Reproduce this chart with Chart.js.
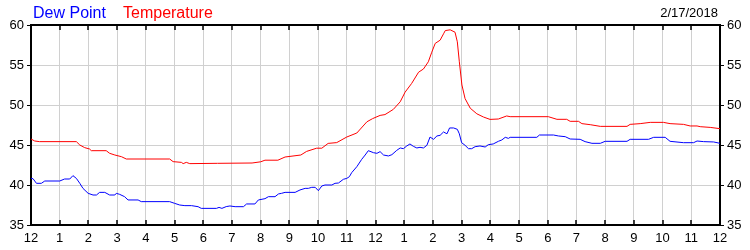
<!DOCTYPE html>
<html>
<head>
<meta charset="utf-8">
<script src="https://cdn.jsdelivr.net/npm/chart.js@4/dist/chart.umd.min.js"></script>
<style>
  html, body { margin: 0; padding: 0; background: #fff; }
  #wrap { width: 750px; height: 250px; position: relative; }
</style>
</head>
<body>
<div id="wrap"><canvas id="c" width="750" height="250"></canvas></div>
<script>
// ---- Data (hours since midnight, degrees F) ----
const chartDate = "2/17/2018";
const seriesNames = ["Dew Point", "Temperature"];
const xTickHours = [0,1,2,3,4,5,6,7,8,9,10,11,12,13,14,15,16,17,18,19,20,21,22,23,24];
const yTicks = [35, 40, 45, 50, 55, 60];

const tempHours = [0,0.13,0.3,1.58,1.7,1.87,2.04,2.1,2.62,2.74,2.92,3.15,3.32,4.83,4.95,5.24,5.3,5.41,5.53,6.5,7.7,8.0,8.15,8.6,8.85,9.4,9.6,9.95,10.13,10.35,10.65,11.0,11.35,11.7,11.9,12.16,12.33,12.62,12.86,13.03,13.26,13.5,13.67,13.84,13.96,14.08,14.25,14.37,14.43,14.6,14.77,14.85,14.92,15.01,15.12,15.3,15.53,15.76,15.99,16.28,16.57,16.69,18.02,18.32,18.66,18.78,19.07,19.19,19.48,19.83,20.76,20.87,21.22,21.57,22.03,22.26,22.73,22.96,23.2,23.31,23.66,24];
const tempValues = [45.75,45.5,45.42,45.42,45.0,44.67,44.5,44.29,44.29,43.96,43.75,43.54,43.25,43.25,42.92,42.83,42.67,42.83,42.67,42.71,42.75,42.9,43.1,43.1,43.5,43.75,44.2,44.6,44.6,45.2,45.3,46.0,46.5,47.9,48.3,48.7,48.8,49.45,50.4,51.6,52.7,54.1,54.5,55.4,56.6,57.7,58.1,58.9,59.3,59.4,59.1,57.9,55.4,52.5,50.8,49.6,48.9,48.5,48.2,48.25,48.63,48.54,48.54,48.21,48.21,47.96,47.96,47.67,47.54,47.33,47.33,47.58,47.67,47.83,47.83,47.67,47.58,47.38,47.38,47.29,47.2,47.04];

const dewHours = [0,0.07,0.19,0.36,0.48,1.0,1.17,1.35,1.46,1.58,1.7,1.81,1.99,2.16,2.28,2.39,2.57,2.74,2.92,2.97,3.09,3.26,3.38,3.73,3.84,4.83,5.0,5.18,5.36,5.59,5.82,5.93,6.46,6.55,6.65,6.8,6.93,7.11,7.4,7.51,7.8,7.92,8.15,8.27,8.5,8.62,8.73,8.85,9.2,9.37,9.55,9.66,9.78,9.9,10.01,10.13,10.24,10.48,10.59,10.71,10.88,11.0,11.09,11.17,11.35,11.52,11.64,11.75,11.93,12.05,12.16,12.28,12.45,12.57,12.74,12.86,12.97,13.09,13.2,13.32,13.44,13.55,13.67,13.79,13.9,14.02,14.14,14.25,14.37,14.49,14.58,14.72,14.85,14.92,15.0,15.12,15.24,15.35,15.47,15.64,15.82,15.93,16.1,16.28,16.4,16.52,16.63,16.69,17.62,17.71,18.2,18.37,18.61,18.78,19.13,19.3,19.54,19.83,20.0,20.76,20.87,21.51,21.69,22.09,22.26,22.73,23.08,23.2,23.43,23.78,24];
const dewValues = [40.83,40.79,40.21,40.21,40.5,40.5,40.75,40.75,41.17,40.83,40.21,39.58,38.96,38.75,38.75,39.08,39.08,38.75,38.75,38.96,38.83,38.54,38.13,38.13,37.92,37.92,37.71,37.5,37.42,37.42,37.29,37.08,37.08,37.2,37.08,37.3,37.38,37.29,37.29,37.63,37.63,38.13,38.29,38.54,38.54,38.88,38.96,39.08,39.08,39.38,39.58,39.58,39.71,39.71,39.29,39.88,40.0,40.0,40.21,40.25,40.71,40.83,41.04,41.54,42.29,43.21,43.75,44.29,44.04,43.96,44.17,43.75,43.63,43.79,44.33,44.63,44.54,44.88,45.13,44.83,44.63,44.71,44.63,44.96,46.0,45.71,46.13,46.21,46.63,46.4,47.13,47.13,46.96,46.4,45.29,44.96,44.54,44.54,44.79,44.88,44.75,45.04,45.13,45.46,45.63,45.96,45.83,45.96,45.96,46.25,46.25,46.13,46.04,45.75,45.71,45.42,45.21,45.21,45.46,45.46,45.71,45.71,45.96,45.96,45.46,45.29,45.29,45.5,45.42,45.38,45.21];

const toPoints = (xs, ys) => xs.map((h, i) => ({ x: h, y: ys[i] }));
const hourLabel = h => { const m = h % 12; return String(m === 0 ? 12 : m); };

const FONT = "'Liberation Sans', Arial, sans-serif";

const framePlugin = {
  id: 'frame',
  afterDraw(chart) {
    const { ctx, chartArea: { left, right, top, bottom }, scales: { x } } = chart;
    ctx.save();
    ctx.strokeStyle = '#000';
    ctx.lineWidth = 2;
    ctx.beginPath();
    ctx.moveTo(left - 1, top);
    ctx.lineTo(right + 1, top);
    ctx.stroke();
    ctx.lineWidth = 1.5;
    xTickHours.forEach(h => {
      const px = Math.round(x.getPixelForValue(h));
      ctx.beginPath();
      ctx.moveTo(px, top);
      ctx.lineTo(px, top + 5);
      ctx.moveTo(px, bottom);
      ctx.lineTo(px, bottom - 5);
      ctx.stroke();
    });
    // header
    ctx.textBaseline = 'alphabetic';
    ctx.font = '16px ' + FONT;
    ctx.textAlign = 'left';
    ctx.fillStyle = '#0000ff';
    ctx.fillText(seriesNames[0], 33, 18);
    ctx.fillStyle = '#ff0000';
    ctx.fillText(seriesNames[1], 123, 18);
    ctx.font = '13px ' + FONT;
    ctx.textAlign = 'right';
    ctx.fillStyle = '#000';
    ctx.fillText(chartDate, 718, 17);
    ctx.restore();
  }
};

new Chart(document.getElementById('c'), {
  type: 'line',
  data: {
    datasets: [
      { label: seriesNames[0], data: toPoints(dewHours, dewValues), borderColor: '#0000ff', borderWidth: 1, pointRadius: 0, tension: 0, fill: false },
      { label: seriesNames[1], data: toPoints(tempHours, tempValues), borderColor: '#ff0000', borderWidth: 1, pointRadius: 0, tension: 0, fill: false }
    ]
  },
  options: {
    responsive: false,
    animation: false,
    devicePixelRatio: 1,
    layout: { padding: { top: 25, left: 0, right: 0, bottom: 0 } },
    plugins: { legend: { display: false }, title: { display: false }, tooltip: { enabled: false } },
    scales: {
      x: {
        type: 'linear', min: 0, max: 24,
        afterBuildTicks: s => { s.ticks = xTickHours.map(v => ({ value: v })); },
        afterFit: s => { s.height = 25; },
        ticks: { callback: v => hourLabel(v), color: '#000', font: { family: FONT, size: 13 }, padding: 6, maxRotation: 0, autoSkip: false },
        grid: { color: '#d0d0d0', drawTicks: false },
        border: { color: '#000', width: 2 }
      },
      y: {
        position: 'left', min: 35, max: 60,
        afterBuildTicks: s => { s.ticks = yTicks.map(v => ({ value: v })); },
        afterFit: s => { s.width = 31; },
        ticks: { color: '#000', font: { family: FONT, size: 13 }, padding: 3 },
        grid: { color: '#d0d0d0', tickColor: '#000', tickLength: 4 },
        border: { color: '#000', width: 2 }
      },
      y2: {
        position: 'right', min: 35, max: 60,
        afterBuildTicks: s => { s.ticks = yTicks.map(v => ({ value: v })); },
        afterFit: s => { s.width = 30; },
        ticks: { color: '#000', font: { family: FONT, size: 13 }, padding: 3 },
        grid: { drawOnChartArea: false, tickColor: '#000', tickLength: 4 },
        border: { color: '#000', width: 2 }
      }
    }
  },
  plugins: [framePlugin]
});
</script>
</body>
</html>
